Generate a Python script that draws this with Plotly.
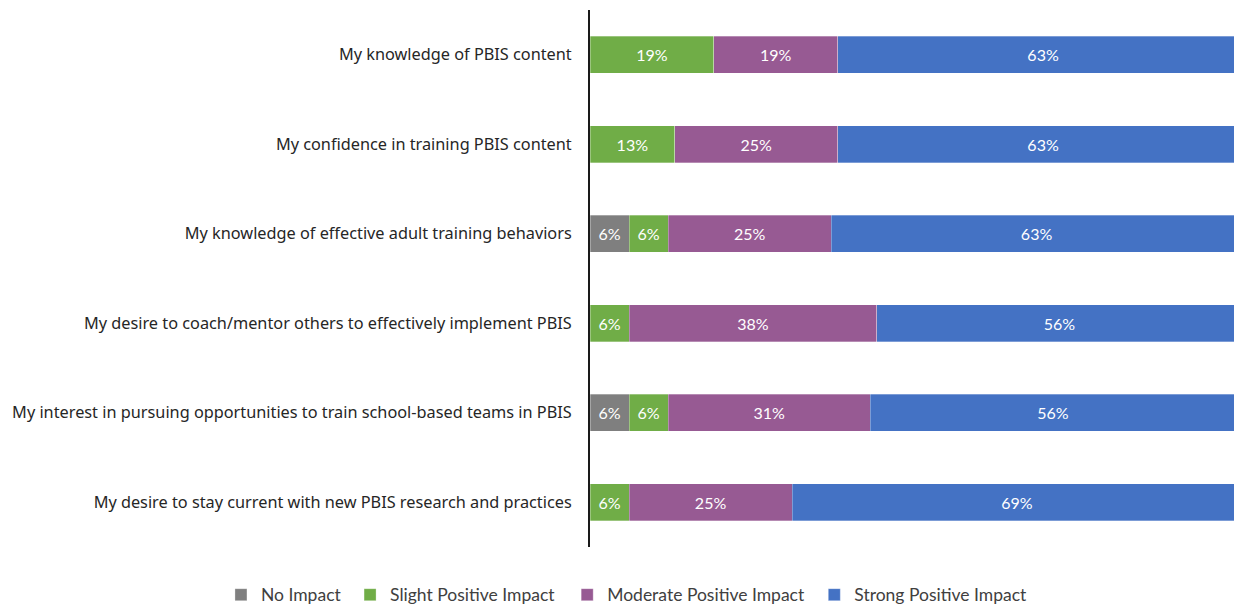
import plotly.graph_objects as go

categories = [
    "My knowledge of PBIS content",
    "My confidence in training PBIS content",
    "My knowledge of effective adult training behaviors",
    "My desire to coach/mentor others to effectively implement PBIS",
    "My interest in pursuing opportunities to train school-based teams in PBIS",
    "My desire to stay current with new PBIS research and practices",
]
series_names = ["No Impact", "Slight Positive Impact", "Moderate Positive Impact", "Strong Positive Impact"]
no_impact = [0, 0, 6, 0, 6, 0]
slight = [19, 13, 6, 6, 6, 6]
moderate = [19, 25, 25, 38, 31, 25]
strong = [63, 63, 63, 56, 56, 69]
colors = ["#7F7F7F", "#70AD47", "#975A93", "#4472C4"]
legend_ids = ["legend", "legend2", "legend3", "legend4"]
legend_x = [-0.566, -0.368, -0.035, 0.344]

fig = go.Figure()
for name, vals, col, lid in zip(series_names, [no_impact, slight, moderate, strong], colors, legend_ids):
    fig.add_trace(go.Bar(
        y=categories, x=vals, name=name, orientation="h",
        marker=dict(color=col, line=dict(color="rgba(255,255,255,0.6)", width=0.5)),
        text=[f"{v}%" if v > 0 else "" for v in vals],
        textposition="inside", insidetextanchor="middle",
        textfont=dict(color="white", size=16, family="Lato"),
        width=0.41, legend=lid,
    ))

legend_style = dict(orientation="h", xanchor="left", y=-0.089, yanchor="middle",
                    font=dict(size=17.5, color="#404040", family="Lato"), itemwidth=30,
                    bgcolor="rgba(0,0,0,0)")
layout_legends = {lid: dict(legend_style, x=lx) for lid, lx in zip(legend_ids, legend_x)}

fig.update_layout(
    barmode="stack",
    width=1234, height=605,
    margin=dict(l=582, r=0, t=2, b=66),
    plot_bgcolor="white", paper_bgcolor="white",
    font=dict(family="Noto Sans", size=16.3, color="#262626"),
    showlegend=True,
    uniformtext=dict(mode="show", minsize=10),
    **layout_legends,
)
fig.update_xaxes(range=[0, 100], visible=False, showgrid=False)
fig.update_yaxes(autorange="reversed", showline=True, linecolor="#1a1a1a", linewidth=2,
                 ticks="", ticklabelstandoff=13, showgrid=False,
                 tickfont=dict(size=16.3, color="#262626"))

fig.write_html("out.html")
